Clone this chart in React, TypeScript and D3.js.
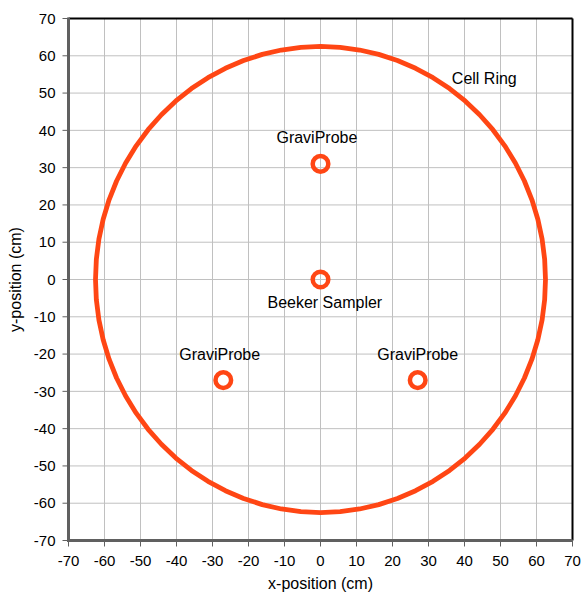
import React from "react";
import * as d3 from "d3";

const ringRadius = 62.5;
const ringAngles: number[] = d3.range(0, 360, 5); // polygon vertices in degrees
const markers = [
  { name: "GraviProbe", x: 0, y: 31 },
  { name: "Beeker Sampler", x: 0, y: 0 },
  { name: "GraviProbe", x: -27, y: -27 },
  { name: "GraviProbe", x: 27, y: -27 },
];
const labels = [
  { text: "GraviProbe", x: -1, y: 36.5 },
  { text: "Beeker Sampler", x: 1.2, y: -7.7 },
  { text: "GraviProbe", x: -28, y: -21.5 },
  { text: "GraviProbe", x: 27, y: -21.5 },
  { text: "Cell Ring", x: 45.5, y: 52.5 },
];
const ticks: number[] = d3.range(-70, 71, 10);

const W = 585;
const H = 597;
const L = 68.5, R = 572.5, T = 18.5, B = 540.5;
const RED = "#ff4614";
const FONT = "Liberation Sans, Arial, sans-serif";

export default function App() {
  const x = d3.scaleLinear().domain([-70, 70]).range([L, R]);
  const y = d3.scaleLinear().domain([-70, 70]).range([B, T]);
  const ringPts: [number, number][] = ringAngles.map((a) => [
    ringRadius * Math.cos((a * Math.PI) / 180),
    ringRadius * Math.sin((a * Math.PI) / 180),
  ]);
  const ring = d3
    .line<[number, number]>()
    .x((d) => x(d[0]))
    .y((d) => y(d[1]))
    .curve(d3.curveLinearClosed)(ringPts);

  return (
    <svg width={W} height={H} style={{ position: "absolute", left: 0, top: 0, background: "#fff" }} fontFamily={FONT}>
      <rect x={0} y={0} width={W} height={H} fill="#fff" />
      {ticks.map((t) => (
        <g key={"g" + t}>
          <line x1={x(t)} x2={x(t)} y1={T} y2={B} stroke="#c0c0c0" strokeWidth={1} />
          <line x1={L} x2={R} y1={y(t)} y2={y(t)} stroke="#c0c0c0" strokeWidth={1} />
        </g>
      ))}
      {/* frame */}
      <line x1={L} x2={R} y1={T} y2={T} stroke="#000" strokeWidth={2} />
      <line x1={R} x2={R} y1={T} y2={B} stroke="#000" strokeWidth={2} />
      <line x1={L} x2={L} y1={T - 1} y2={B + 1.5} stroke="#606060" strokeWidth={3} />
      <line x1={L - 1.5} x2={R} y1={B} y2={B} stroke="#606060" strokeWidth={3} />
      {ticks.map((t) => (
        <g key={"t" + t}>
          <line x1={L - 6} x2={L} y1={y(t)} y2={y(t)} stroke="#606060" strokeWidth={1} />
          <line x1={x(t)} x2={x(t)} y1={B} y2={B + 6} stroke="#606060" strokeWidth={1} />
          <text x={L - 13} y={y(t)} dy="0.35em" textAnchor="end" fontSize={15} fill="#000">
            {t}
          </text>
          <text x={x(t)} y={566} textAnchor="middle" fontSize={15} fill="#000">
            {t}
          </text>
        </g>
      ))}
      <path d={ring ?? ""} fill="none" stroke={RED} strokeWidth={4.8} strokeLinejoin="round" />
      {markers.map((m, i) => (
        <circle key={"m" + i} cx={x(m.x)} cy={y(m.y)} r={7.8} fill="none" stroke={RED} strokeWidth={4.5} />
      ))}
      {labels.map((l, i) => (
        <text key={"l" + i} x={x(l.x)} y={y(l.y)} textAnchor="middle" fontSize={16} fill="#000">
          {l.text}
        </text>
      ))}
      <text x={(L + R) / 2} y={589} textAnchor="middle" fontSize={16} fill="#000">
        x-position (cm)
      </text>
      <text
        transform={`translate(21,${(T + B) / 2}) rotate(-90)`}
        textAnchor="middle"
        fontSize={16}
        fill="#000"
      >
        y-position (cm)
      </text>
    </svg>
  );
}
